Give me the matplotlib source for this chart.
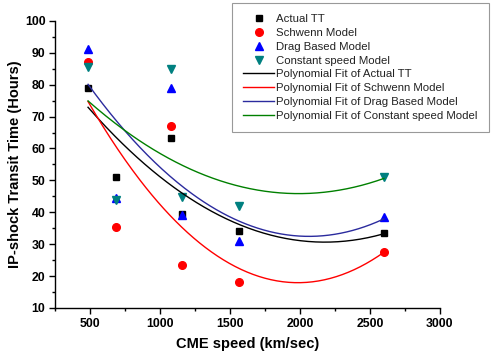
import numpy as np
import matplotlib
matplotlib.use('Agg')
import matplotlib.pyplot as plt
from matplotlib.ticker import MultipleLocator

plt.rcParams['font.family'] = ['Liberation Sans', 'DejaVu Sans']

speed = [485, 686, 1078, 1155, 1565, 2600]
actual_tt = [79.0, 51.0, 63.3, 39.5, 34.2, 33.4]
schwenn = [87.0, 35.5, 67.0, 23.6, 18.3, 27.7]
drag_based = [91.3, 44.5, 79.0, 39.0, 31.0, 38.5]
const_speed = [85.7, 44.0, 85.0, 44.8, 42.0, 51.2]

series = [
    ('Actual TT', actual_tt, 's', 'black', 4.5, 'black'),
    ('Schwenn Model', schwenn, 'o', 'red', 5.5, 'red'),
    ('Drag Based Model', drag_based, '^', 'blue', 6, '#2b2b9e'),
    ('Constant speed Model', const_speed, 'v', '#008080', 6, 'green'),
]

fig = plt.figure(figsize=(4.97, 3.54), dpi=100)
ax = fig.add_axes([0.111, 0.130, 0.774, 0.811])

handles = []
for name, vals, mk, col, ms, fitcol in series:
    h, = ax.plot(speed, vals, linestyle='none', marker=mk, color=col,
                 markersize=ms, label=name)
    handles.append(h)

# quadratic fits of each series
xs = np.linspace(min(speed), max(speed), 200)
for name, vals, mk, col, ms, fitcol in series:
    coef = np.polyfit(speed, vals, 2)
    h, = ax.plot(xs, np.polyval(coef, xs), color=fitcol, linewidth=1.0,
                 label='Polynomial Fit of ' + name)
    handles.append(h)

ax.set_xlim(250, 3000)
ax.set_ylim(10, 100)
ax.xaxis.set_major_locator(MultipleLocator(500))
ax.xaxis.set_minor_locator(MultipleLocator(250))
ax.yaxis.set_major_locator(MultipleLocator(10))
ax.yaxis.set_minor_locator(MultipleLocator(5))
ax.spines['top'].set_visible(False)
ax.spines['right'].set_visible(False)
for s in ['left', 'bottom']:
    ax.spines[s].set_linewidth(1.0)
ax.tick_params(which='major', direction='out', length=4, width=1,
               labelsize=8.8, pad=3)
ax.tick_params(which='minor', direction='out', length=2.5, width=1)
for lab in ax.get_xticklabels() + ax.get_yticklabels():
    lab.set_fontweight('bold')

ax.set_xlabel('CME speed (km/sec)', fontsize=10.5, fontweight='bold', labelpad=5)
ax.set_ylabel('IP-shock Transit Time (Hours)', fontsize=10.5, fontweight='bold',
              labelpad=2)

leg = fig.legend(handles=handles, loc='upper right',
                 bbox_to_anchor=(489 / 497, 1 - 3 / 354), fontsize=8.2,
                 frameon=True, fancybox=False, borderpad=1.0,
                 labelspacing=0.33, handlelength=2.7, handletextpad=0.2,
                 borderaxespad=0)
leg.get_frame().set_edgecolor('#808080')
leg.get_frame().set_linewidth(0.8)
for t in leg.get_texts():
    t.set_color('#222222')

fig.savefig('out.png', dpi=100)
